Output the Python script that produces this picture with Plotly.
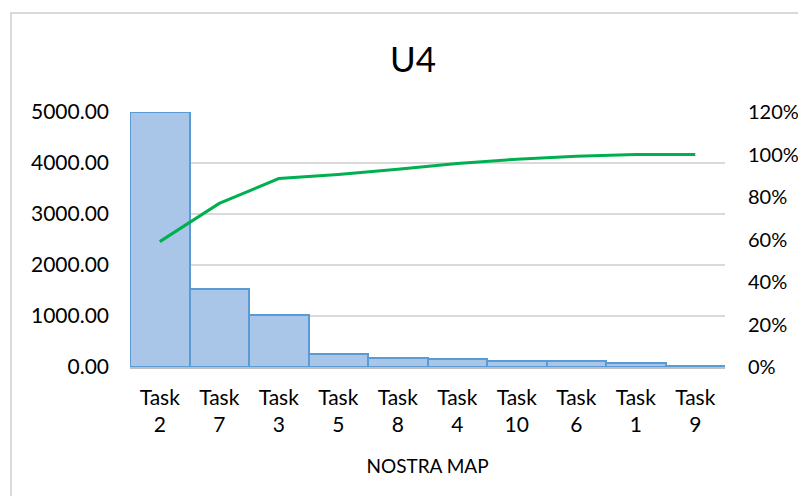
import plotly.graph_objects as go

categories = ["Task<br>2", "Task<br>7", "Task<br>3", "Task<br>5", "Task<br>8",
              "Task<br>4", "Task<br>10", "Task<br>6", "Task<br>1", "Task<br>9"]
values = [5000, 1530, 1010, 260, 182, 162, 123, 117, 84, 25]
cumulative_pct = [0.59, 0.77, 0.887, 0.906, 0.931, 0.958, 0.978, 0.992, 1.0, 1.0]
left_ticks = [0, 1000, 2000, 3000, 4000, 5000]
right_ticks = [0, 0.2, 0.4, 0.6, 0.8, 1.0, 1.2]

FONT = "Lato"
W, H = 798, 488
L, R, T, B = 122, 81, 104, 129
PW, PH = W - L - R, H - T - B

fig = go.Figure()
fig.add_trace(go.Bar(
    x=categories, y=values,
    marker=dict(color="#a9c5e8", line=dict(color="#5b9bd5", width=2)),
    showlegend=False,
))
fig.add_trace(go.Scatter(
    x=categories, y=cumulative_pct, yaxis="y2", mode="lines",
    line=dict(color="#00b050", width=3),
    showlegend=False,
))

fig.update_layout(
    width=W, height=H,
    margin=dict(l=L, r=R, t=T, b=B, autoexpand=False),
    paper_bgcolor="white", plot_bgcolor="white",
    bargap=0,
    font=dict(family=FONT, size=21, color="#000000"),
    title=dict(text="U4", x=405 / W, xanchor="center", y=1 - 52 / H, yanchor="middle",
               font=dict(family=FONT, size=35, color="#000000")),
    xaxis=dict(
        automargin=False,
        showgrid=False, showline=True, linecolor="#bfbfbf", linewidth=1.5,
        ticks="", ticklabelstandoff=11,
        tickfont=dict(family=FONT, size=21),
        title=dict(text="NOSTRA MAP", font=dict(family=FONT, size=19), standoff=24),
    ),
    yaxis=dict(
        automargin=False,
        range=[0, 5000], tickvals=left_ticks, tickformat=".2f",
        showgrid=True, gridcolor="#d9d9d9", gridwidth=1.5,
        zeroline=False, showline=False, ticks="", ticklabelstandoff=20,
        tickfont=dict(family=FONT, size=21),
    ),
    yaxis2=dict(
        automargin=False,
        range=[0, 1.2], tickvals=right_ticks, tickformat=".0%",
        overlaying="y", side="right", showgrid=False, zeroline=False,
        showline=False, ticks="", ticklabelstandoff=22,
        tickfont=dict(family=FONT, size=20),
    ),
    shapes=[dict(
        type="rect", xref="paper", yref="paper",
        x0=(3 - L) / PW, x1=1.3, y0=-1.0, y1=(H - B - 5) / PH,
        line=dict(color="#d9d9d9", width=2), fillcolor="rgba(0,0,0,0)",
        layer="below",
    )],
)

fig.write_html("out.html")
